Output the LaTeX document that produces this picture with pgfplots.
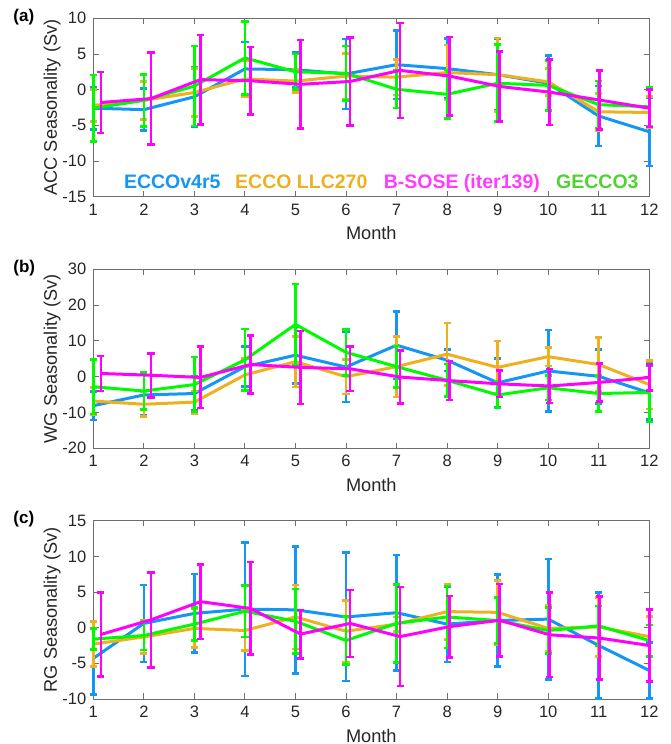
\documentclass[border=0pt]{standalone}
\usepackage{pgfplots}
\pgfplotsset{compat=1.18}
\usepackage{pgfplotstable}
\usepackage{fontspec}
\setmainfont{Liberation Sans}

\definecolor{cblue}{RGB}{20,150,245}
\definecolor{corange}{RGB}{237,177,32}
\definecolor{cgreen}{RGB}{0,250,0}
\definecolor{cmag}{RGB}{255,0,255}
\definecolor{lgreen}{RGB}{80,210,50}
\definecolor{lmag}{RGB}{255,60,255}
\definecolor{axcol}{RGB}{110,110,110}
\definecolor{txtcol}{RGB}{38,38,38}

% columns: month, B-SOSE x position, then mean / std for
% ECCOv4r5 (b), ECCO LLC270 (o), GECCO3 (g), B-SOSE (p)
\pgfplotstableread{
m  mx    by    be    oy    oe    gy    ge    py    pe
1  1.15  -2.6  3.0   -2.2  2.25  -2.6  4.65  -1.8  4.25
2  2.14  -2.8  2.95  -1.5  2.65  -1.5  3.65  -1.25 6.45
3  3.12  -1.0  4.2   -0.4  3.4   0.5   5.6   1.4   6.25
4  4.11  2.9   3.8   1.5   2.5   4.45  5.1   1.25  4.7
5  5.10  2.8   2.5   1.2   1.6   2.5   2.5   0.75  6.2
6  6.08  2.2   4.9   1.9   3.2   2.3   3.8   1.15  6.15
7  7.07  3.5   4.8   1.75  2.5   0.05  2.6   2.7   6.65
8  8.05  2.95  4.2   2.4   3.85  -0.65 3.4   1.9   5.5
9  9.04  2.1   5.05  2.1   5.15  0.9   5.4   0.45  4.9
10 10.03 0.9   3.85  1.1   1.9   0.6   3.5   -0.35 4.6
11 11.01 -3.7  4.2   -3.1  2.6   -2.1  3.3   -1.45 4.1
12 12.00 -5.9  4.8   -3.2  2.2   -2.4  2.7   -2.6  2.65
}\accdata

\pgfplotstableread{
m  mx    by    be    oy    oe    gy    ge    py    pe
1  1.15  -8.1  3.95  -6.8  3.7   -2.8  7.6   0.9   4.9
2  2.14  -5.1  5.6   -7.7  3.5   -4.0  5.1   0.4   6.15
3  3.12  -4.7  4.8   -7.1  3.1   -2.2  7.7   -0.2  8.6
4  4.11  2.8   5.6   0.5   4.5   4.7   8.6   3.4   8.15
5  5.10  6.0   7.9   4.2   7.1   14.6  11.3  2.6   10.2
6  6.08  2.7   9.75  0.0   4.85  6.8   6.4   2.2   6.2
7  7.07  8.8   9.4   2.8   8.5   2.8   5.8   -0.1  7.45
8  8.05  4.6   3.0   6.3   8.7   -1.0  4.5   -1.1  5.45
9  9.04  -1.7  6.85  2.6   7.35  -5.1  3.7   -2.0  3.65
10 10.03 1.6   11.4  5.6   2.6   -3.1  3.4   -2.6  4.75
11 11.01 0.1   7.55  3.4   7.6   -4.7  5.1   -1.6  5.3
12 12.00 -4.5  7.5   -2.2  6.8   -4.4  8.25  -0.2  3.6
}\wgdata

\pgfplotstableread{
m  mx    by    be    oy    oe    gy    ge    py    pe
1  1.15  -4.3  5.1   -2.3  3.15  -1.6  1.5   -0.95 5.9
2  2.14  0.6   5.4   -1.3  2.35  -1.1  2.05  1.1   6.65
3  3.12  2.0   5.5   -0.1  2.7   0.5   2.3   3.65  5.25
4  4.11  2.6   9.35  -0.4  2.8   2.3   3.6   2.7   6.5
5  5.10  2.5   8.9   1.5   4.5   0.9   4.5   -0.9  3.4
6  6.08  1.5   9.0   -0.5  4.35  -1.8  3.4   0.6   4.7
7  7.07  2.1   8.1   0.5   1.0   0.6   5.45  -1.25 6.95
8  8.05  0.5   5.3   2.25  3.9   1.5   4.35  0.15  4.3
9  9.04  1.0   6.45  2.15  4.5   1.0   3.2   1.05  5.1
10 10.03 1.2   8.45  -0.1  3.2   -0.4  3.25  -1.0  5.9
11 11.01 -2.5  7.4   0.1   4.15  0.25  2.8   -1.45 5.85
12 12.00 -6.0  3.95  -1.25 2.8   -1.8  2.2   -2.5  5.05
}\rgdata

\pgfplotsset{
  panel/.style={
    scale only axis, width=278pt,
    xmin=1, xmax=12, xtick={1,...,12},
    tick align=inside, tick pos=both, major tick length=2.75pt,
    axis line style={axcol, line width=0.45pt},
    tick style={axcol, line width=0.45pt},
    ticklabel style={font=\fontsize{8.25}{9.5}\selectfont, text=txtcol},
    /pgf/number format/assume math mode=true,
    clip=false,
    xlabel={Month},
    xlabel style={at={(axis description cs:0.5,0)}, anchor=base, yshift=-21.6pt,
      font=\fontsize{9.1}{10.5}\selectfont, text=txtcol},
    ylabel style={at={(axis description cs:-0.0653,0.5)}, anchor=base,
      font=\fontsize{9.1}{10.5}\selectfont, text=txtcol},
  },
  series/.style={color=#1, line width=1.5pt, mark=none,
    error bars/.cd, y dir=both, y explicit,
    error bar style={line width=1.3pt, color=#1},
    error mark options={rotate=90, line width=1.3pt, mark size=1.8pt, color=#1}},
}

\newcommand{\drawseries}[1]{%
  \addplot[series=cblue]   table[x=m,  y=by, y error=be] {#1};
  \addplot[series=corange] table[x=m,  y=oy, y error=oe] {#1};
  \addplot[series=cgreen]  table[x=m,  y=gy, y error=ge] {#1};
  \addplot[series=cmag]    table[x=mx, y=py, y error=pe] {#1};
}

\begin{document}
\begin{tikzpicture}
\path[use as bounding box] (0,0) rectangle (335pt,372pt);

% (a) ACC
\begin{axis}[panel, at={(46.65pt,273.65pt)}, anchor=south west, height=89.2pt,
  ymin=-15, ymax=10, ytick={-15,-10,...,10},
  ylabel={ACC Seasonality (Sv)}]
\drawseries{\accdata}
\begin{scope}[font=\bfseries\fontsize{9.75}{11}\selectfont]
\node[anchor=base west, inner sep=0, text=cblue]   at (axis cs:1.60,-13.8) {ECCOv4r5};
\node[anchor=base west, inner sep=0, text=corange] at (axis cs:3.80,-13.8) {ECCO LLC270};
\node[anchor=base west, inner sep=0, text=lmag]    at (axis cs:6.74,-13.8) {B-SOSE (iter139)};
\node[anchor=base west, inner sep=0, text=lgreen]  at (axis cs:10.15,-13.8) {GECCO3};
\end{scope}
\end{axis}

% (b) WG
\begin{axis}[panel, at={(46.65pt,147.85pt)}, anchor=south west, height=89.5pt,
  ymin=-20, ymax=30, ytick={-20,-10,...,30},
  ylabel={WG Seasonality (Sv)}]
\drawseries{\wgdata}
\end{axis}

% (c) RG
\begin{axis}[panel, at={(46.65pt,22.5pt)}, anchor=south west, height=89.15pt,
  ymin=-10, ymax=15, ytick={-10,-5,...,15},
  ylabel={RG Seasonality (Sv)}]
\drawseries{\rgdata}
\end{axis}

\begin{scope}[font=\bfseries\fontsize{8.5}{10}\selectfont]
\node[anchor=base west, inner sep=0] at (6.5pt,361pt) {(a)};
\node[anchor=base west, inner sep=0] at (6.5pt,235.5pt) {(b)};
\node[anchor=base west, inner sep=0] at (6.5pt,110.2pt) {(c)};
\end{scope}
\end{tikzpicture}
\end{document}
